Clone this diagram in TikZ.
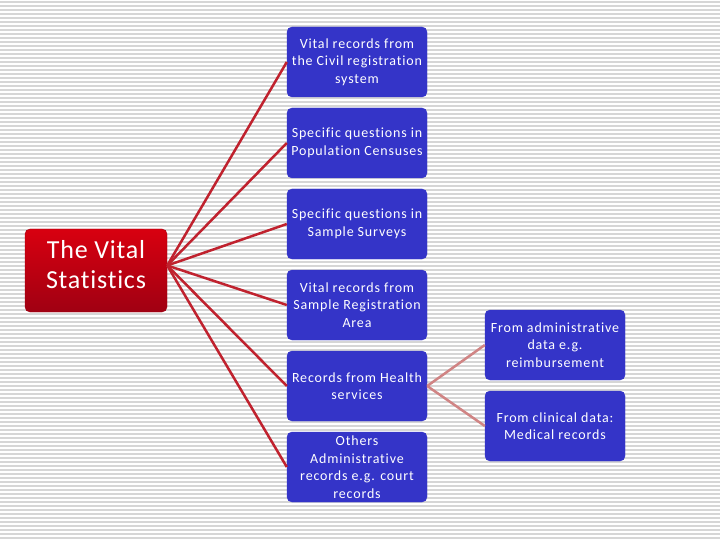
\documentclass[tikz,border=0pt]{standalone}
\usepackage{fontspec}
\setmainfont{Carlito}
\newfontfamily\boxfont[LetterSpace=6,Ligatures=NoCommon]{Carlito}
\newfontfamily\titlefont[LetterSpace=3,Ligatures=NoCommon]{Carlito}
\usepackage{tikz}
\usetikzlibrary{positioning}
\definecolor{vsred}{HTML}{D80010}
\definecolor{vsdark}{HTML}{A00012}
\definecolor{srcblue}{HTML}{3434C8}
\definecolor{feedred}{HTML}{C0222E}
\definecolor{feedpink}{HTML}{D08484}
\definecolor{stripe}{HTML}{D6D6D6}
\begin{document}
\begin{tikzpicture}[x=1pt,y=-1pt,
  topbox/.style={rounded corners=5pt,top color=vsred,bottom color=vsdark,draw=vsdark,text=white,align=center,
    minimum width=142pt,minimum height=83pt,text depth=13pt,font=\titlefont\fontsize{26}{30}\selectfont},
  srcbox/.style={rounded corners=5pt,fill=srcblue,draw=srcblue,text=white,align=center,
    minimum width=140pt,minimum height=70pt,inner sep=1pt,font=\boxfont\fontsize{14}{17.5}\selectfont},
  feed/.style={draw=feedred,line width=2.5pt},
  subfeed/.style={draw=feedpink,line width=2.5pt}]
% page and stripes
\useasboundingbox (0,0) rectangle (720,540);
\fill[white] (0,0) rectangle (720,540);
\foreach \k in {2,6,...,538}{\draw[stripe,line width=1.2pt] (0,\k) -- (720,\k);}
% main box
\node[topbox] (vs) at (96,270.5) {The Vital\\Statistics};
\coordinate (hub) at ([yshift=5pt]vs.east);
% sources
\node[srcbox] (civ) at (357,62)  {Vital records from\\the Civil registration\\system};
\node[srcbox] (cen) at (357,143) {Specific questions in\\Population Censuses};
\node[srcbox] (sur) at (357,224) {Specific questions in\\Sample Surveys};
\node[srcbox] (sra) at (357,305) {Vital records from\\Sample Registration\\Area};
\node[srcbox] (hea) at (357,386) {Records from Health\\services};
\node[srcbox] (oth) at (357,467) {Others\\Administrative\\records e.g. court\\records};
% health records split
\node[srcbox] (adm) at (555,345) {From administrative\\data e.g.\\reimbursement};
\node[srcbox] (cli) at (555,426) {From clinical data:\\Medical records};
% connectors
\foreach \n in {civ,cen,sur,sra,hea,oth}{\draw[feed] (hub) -- (\n.west);}
\foreach \n in {adm,cli}{\draw[subfeed] (hea.east) -- (\n.west);}
\end{tikzpicture}
\end{document}
